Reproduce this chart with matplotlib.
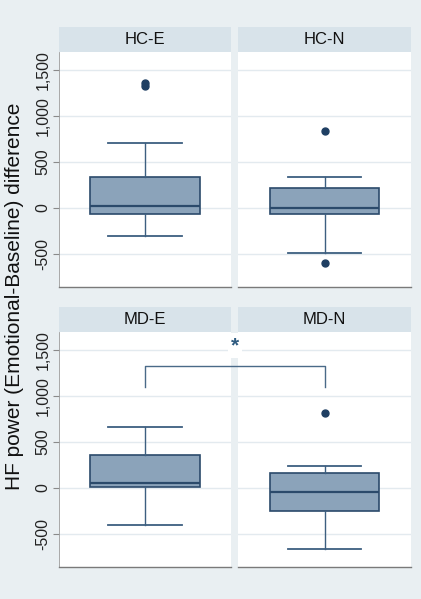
#!/usr/bin/env python

import matplotlib
matplotlib.use('Agg')
import matplotlib.pyplot as plt
from matplotlib.lines import Line2D

plt.rcParams['font.family'] = ['Liberation Sans', 'DejaVu Sans']

# ==================================================================
# datos
groups = ['HC-E', 'HC-N', 'MD-E', 'MD-N']
whislo = [-305, -492, -399, -663]
q1 = [-68, -68, 8, -253]
med = [22, 3, 51, -43]
q3 = [337, 214, 362, 163]
whishi = [710, 340, 660, 239]
fliers = [[1320, 1355], [837, -601], [], [815]]

yticks = [-500, 0, 500, 1000, 1500]
ytick_labels = ['-500', '0', '500', '1,000', '1,500']
ylabel = 'HF power (Emotional-Baseline) difference'

bracket_low = 1101
bracket_high = 1329
star_y = 1547

BG = '#e9eff2'
STRIP = '#d8e3ea'
GRID = '#e3eaef'
BOX = '#8ba3ba'
EDGE = '#2b4a6b'

W, H = 421, 599
fig = plt.figure(figsize=(W / 100, H / 100), dpi=100, facecolor=BG)


def px_axes(x0, y0, x1, y1):
    """ Crea ejes a partir de coordenadas en pixeles (origen arriba) """
    return fig.add_axes([x0 / W, 1 - y1 / H, (x1 - x0) / W, (y1 - y0) / H])


panels = [(59, 231, 52, 287), (238, 411, 52, 287),
          (59, 231, 332, 567), (238, 411, 332, 567)]
axes = []
for i, (x0, x1, y0, y1) in enumerate(panels):
    # encabezado
    hax = px_axes(x0, y0 - 25, x1, y0)
    hax.set_facecolor(STRIP)
    hax.set_xticks([])
    hax.set_yticks([])
    for s in hax.spines.values():
        s.set_visible(False)
    hax.text(0.5, 0.5, groups[i], ha='center', va='center', fontsize=12,
             color='#111111', transform=hax.transAxes)

    ax = px_axes(x0, y0, x1, y1)
    ax.set_facecolor('white')
    stats = [dict(whislo=whislo[i], q1=q1[i], med=med[i], q3=q3[i],
                  whishi=whishi[i], fliers=fliers[i])]
    ax.bxp(stats, positions=[0], widths=0.635, capwidths=0.425,
           patch_artist=True,
           boxprops=dict(facecolor=BOX, edgecolor=EDGE, linewidth=1.2),
           medianprops=dict(color=EDGE, linewidth=1.6),
           whiskerprops=dict(color='#3d5f80', linewidth=1.0),
           capprops=dict(color='#3d5f80', linewidth=1.3),
           flierprops=dict(marker='o', markerfacecolor='#1f3f63',
                           markeredgecolor='#1f3f63', markersize=5))
    ax.set_xlim(-0.5, 0.5)
    ax.set_ylim(-860, 1695)
    ax.set_xticks([])
    ax.set_yticks(yticks)
    ax.yaxis.grid(True, color=GRID, linewidth=1.0)
    ax.set_axisbelow(True)
    for s in ['top', 'right']:
        ax.spines[s].set_visible(False)
    ax.spines['bottom'].set_color('#7a7a7a')
    ax.spines['bottom'].set_linewidth(1.0)
    if i % 2 == 0:
        ax.spines['left'].set_color('#9a9a9a')
        ax.spines['left'].set_linewidth(0.6)
        ax.set_yticklabels(ytick_labels, rotation=90, va='center',
                           fontsize=11.5, color='#222222')
        ax.tick_params(axis='y', length=4, color='#8a8a8a', pad=2)
    else:
        ax.spines['left'].set_visible(False)
        ax.tick_params(axis='y', length=0, labelleft=False)
    axes.append(ax)

fig.text(15 / W, 1 - 296 / H, ylabel, rotation=90, ha='center',
         va='center', fontsize=15, color='#111111')

# corchete de significancia entre MD-E y MD-N
to_fig = fig.transFigure.inverted()
p_a = to_fig.transform(axes[2].transData.transform((0, bracket_low)))
p_b = to_fig.transform(axes[2].transData.transform((0, bracket_high)))
p_c = to_fig.transform(axes[3].transData.transform((0, bracket_high)))
p_d = to_fig.transform(axes[3].transData.transform((0, bracket_low)))
fig.add_artist(Line2D([p_a[0], p_b[0], p_c[0], p_d[0]],
                      [p_a[1], p_b[1], p_c[1], p_d[1]],
                      color='#4a6a88', linewidth=1.0,
                      transform=fig.transFigure))
p_s = to_fig.transform(axes[2].transData.transform((0, star_y)))
fig.text((p_a[0] + p_d[0]) / 2, p_s[1], '*', ha='center', va='center',
         fontsize=15, color='#2f5b80', fontweight='bold',
         bbox=dict(facecolor='white', edgecolor='none', pad=2))

fig.savefig('out.png', dpi=100, facecolor=BG)
